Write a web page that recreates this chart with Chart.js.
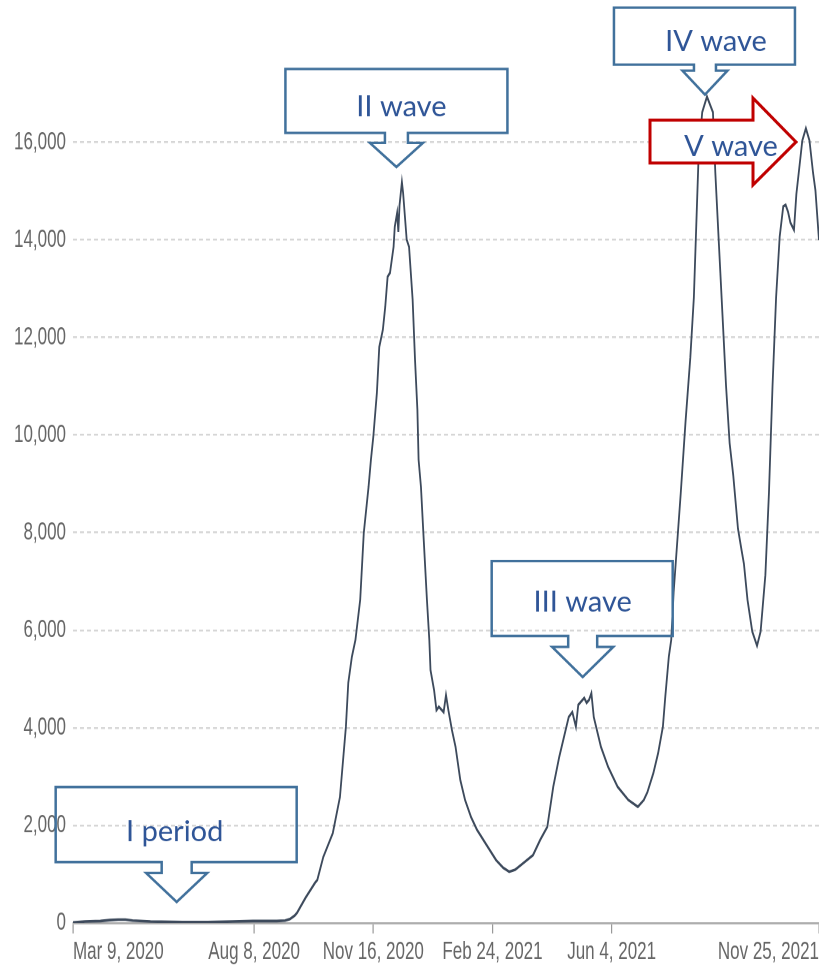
<!DOCTYPE html>
<html>
<head>
<meta charset="utf-8">
<script src="https://cdn.jsdelivr.net/npm/chart.js@4.4.0/dist/chart.umd.min.js"></script>
<style>
  html, body { margin: 0; padding: 0; background: #fff; overflow: hidden; }
</style>
</head>
<body>
<!-- the source screenshot is stretched vertically, so the chart is drawn short and shown taller -->
<canvas id="chart" width="819" height="645" style="width:819px;height:968px;display:block"></canvas>
<script>
const STRETCH = 968 / 645;

// days since Mar 9, 2020 and daily new cases
const caseDays = [
  0, 10, 23, 31, 38, 44, 50, 65, 92, 113, 134, 151, 171, 178, 182, 186, 188, 195, 203, 205,
  210, 218, 224, 229, 231, 234, 237, 239, 241, 244, 248, 250, 252, 255, 257, 260, 262, 264, 266, 269,
  270, 272, 273, 274, 276, 277, 280, 282, 285, 287, 289, 290, 292, 294, 297, 299, 300, 303, 305, 307,
  311, 313, 315, 318, 321, 325, 329, 334, 339, 348, 355, 361, 366, 371, 378, 386, 392, 398, 403, 408,
  412, 416, 419, 422, 424, 429, 431, 433, 435, 437, 443, 449, 457, 466, 474, 479, 482, 487, 491, 495,
  497, 500, 502, 504, 510, 514, 518, 521, 523, 525, 528, 532, 537, 539, 542, 545, 548, 551, 554, 558,
  561, 563, 566, 570, 574, 577, 581, 584, 587, 590, 593, 596, 598, 600, 602, 605, 607, 609, 612, 615,
  618, 621, 623, 626
];
const caseValues = [
  10, 30, 40, 60, 70, 70, 50, 30, 20, 20, 30, 40, 40, 50, 80, 150, 210, 510, 820, 880,
  1350, 1840, 2580, 4020, 4920, 5450, 5800, 6210, 6620, 7990, 8930, 9490, 9960, 10860, 11800, 12150, 12620, 13240, 13320, 13850,
  14260, 14550, 14160, 14700, 15180, 14960, 14000, 13850, 12770, 11540, 10510, 9490, 8930, 7990, 6620, 5800, 5180, 4770, 4360, 4430,
  4320, 4670, 4360, 3950, 3610, 2930, 2520, 2170, 1910, 1560, 1290, 1130, 1050, 1090, 1230, 1390, 1700, 1970, 2790, 3400,
  3810, 4220, 4320, 4020, 4470, 4610, 4510, 4570, 4710, 4220, 3610, 3200, 2790, 2520, 2380, 2520, 2680, 3070, 3480, 4020,
  4630, 5460, 5800, 6770, 8810, 10270, 11580, 12820, 14280, 15740, 16610, 16930, 16610, 15370, 13910, 12460, 11000, 9830, 9180, 8080,
  7640, 7360, 6620, 5970, 5680, 5970, 7130, 8810, 11000, 12820, 14060, 14680, 14710, 14570, 14350, 14200, 14930, 15370, 16030, 16280,
  16030, 15370, 15010, 13990
];

const xTickDays = [0, 152, 252, 352, 452, 626];
const xTickLabels = ['Mar 9, 2020', 'Aug 8, 2020', 'Nov 16, 2020', 'Feb 24, 2021', 'Jun 4, 2021', 'Nov 25, 2021'];
const yTickValues = [0, 2000, 4000, 6000, 8000, 10000, 12000, 14000, 16000];

// callouts are anchored at the arrow tip (day, value); box sizes are page pixels around the tip
const callouts = [
  { text: 'I period', day: 87, value: 430, left: -121, right: 120, top: -115, bottom: -40, stem: 15, head: 30.5, headTop: -29, tx: -2, ty: -70 },
  { text: 'II wave', day: 271.4, value: 15490, left: -111, right: 111, top: -98, bottom: -34, stem: 11.5, head: 26.5, headTop: -24, tx: 5, ty: -60 },
  { text: 'III wave', day: 427.7, value: 5040, left: -91, right: 90, top: -116, bottom: -41, stem: 14.5, head: 30.5, headTop: -30, tx: 0, ty: -75 },
  { text: 'IV wave', day: 530.3, value: 16970, left: -91, right: 90, top: -87, bottom: -30, stem: 11, head: 22.5, headTop: -24, tx: 11, ty: -53 }
];
const rightArrow = { text: 'V wave', day: 606.7, value: 16000, left: -146, neck: -43, top: -22, bottom: 21, headTop: -44, headBottom: 43, tx: -65, ty: 5 };

function drawCallout(ctx, x, y, c) {
  ctx.beginPath();
  ctx.moveTo(x + c.left, y + c.top);
  ctx.lineTo(x + c.right, y + c.top);
  ctx.lineTo(x + c.right, y + c.bottom);
  ctx.lineTo(x + c.stem, y + c.bottom);
  ctx.lineTo(x + c.stem, y + c.headTop);
  ctx.lineTo(x + c.head, y + c.headTop);
  ctx.lineTo(x, y);
  ctx.lineTo(x - c.head, y + c.headTop);
  ctx.lineTo(x - c.stem, y + c.headTop);
  ctx.lineTo(x - c.stem, y + c.bottom);
  ctx.lineTo(x + c.left, y + c.bottom);
  ctx.closePath();
  // the blue callouts are see-through: grid lines and labels show inside them
  ctx.lineWidth = 2.5;
  ctx.strokeStyle = '#41719c';
  ctx.stroke();
  ctx.fillStyle = '#2f5597';
  ctx.fillText(c.text, x + c.tx, y + c.ty);
}

function drawRightArrow(ctx, x, y, a) {
  ctx.beginPath();
  ctx.moveTo(x + a.left, y + a.top);
  ctx.lineTo(x + a.neck, y + a.top);
  ctx.lineTo(x + a.neck, y + a.headTop);
  ctx.lineTo(x, y);
  ctx.lineTo(x + a.neck, y + a.headBottom);
  ctx.lineTo(x + a.neck, y + a.bottom);
  ctx.lineTo(x + a.left, y + a.bottom);
  ctx.closePath();
  ctx.fillStyle = '#ffffff';
  ctx.fill();
  ctx.lineWidth = 3;
  ctx.strokeStyle = '#c00000';
  ctx.stroke();
  ctx.fillStyle = '#2f5597';
  ctx.fillText(a.text, x + a.tx, y + a.ty);
}

const calloutPlugin = {
  id: 'callouts',
  afterDraw(chart) {
    const ctx = chart.ctx;
    const xs = chart.scales.x;
    const ys = chart.scales.y;
    ctx.save();
    ctx.scale(1, 1 / STRETCH);
    ctx.font = '29px Lato, "Open Sans", sans-serif';
    ctx.textAlign = 'center';
    ctx.textBaseline = 'middle';
    ctx.lineJoin = 'miter';
    callouts.forEach(c => {
      drawCallout(ctx, xs.getPixelForValue(c.day), ys.getPixelForValue(c.value) * STRETCH, c);
    });
    drawRightArrow(ctx, xs.getPixelForValue(rightArrow.day), ys.getPixelForValue(rightArrow.value) * STRETCH, rightArrow);
    ctx.restore();
  }
};

const points = caseDays.map((d, i) => ({ x: d, y: caseValues[i] }));
const tickFont = { family: '"Liberation Sans", Arial, sans-serif', size: 17 };

new Chart(document.getElementById('chart'), {
  type: 'line',
  data: {
    datasets: [{
      data: points,
      borderColor: '#3d4a5c',
      borderWidth: 1.8,
      pointRadius: 0,
      tension: 0,
      fill: false
    }]
  },
  options: {
    responsive: false,
    devicePixelRatio: 2,
    animation: false,
    layout: { padding: 0 },
    plugins: { legend: { display: false }, tooltip: { enabled: false } },
    scales: {
      x: {
        type: 'linear',
        min: 0,
        max: 626,
        afterBuildTicks: (scale) => { scale.ticks = xTickDays.map(v => ({ value: v })); },
        afterFit: (scale) => { scale.height = 30; scale.paddingLeft = 0; scale.paddingRight = 0; },
        ticks: {
          autoSkip: false,
          maxRotation: 0,
          align: 'inner',
          padding: 2,
          color: '#666',
          font: tickFont,
          callback: (value) => xTickLabels[xTickDays.indexOf(value)]
        },
        grid: { drawOnChartArea: false, drawTicks: true, tickLength: 7, color: '#999', lineWidth: 1.2 },
        border: { display: true, color: '#aaa', width: 1.4 }
      },
      y: {
        min: 0,
        max: 18909,
        afterBuildTicks: (scale) => { scale.ticks = yTickValues.map(v => ({ value: v })); },
        afterFit: (scale) => { scale.width = 73; scale.paddingTop = 0; scale.paddingBottom = 0; },
        ticks: {
          padding: 7,
          color: '#666',
          font: tickFont,
          callback: (value) => value.toLocaleString('en-US')
        },
        grid: {
          drawTicks: false,
          lineWidth: 1.2,
          color: (c) => (c.tick && c.tick.value === 0) ? 'rgba(0,0,0,0)' : '#d6d6d6'
        },
        border: { display: false, dash: [4, 3] }
      }
    }
  },
  plugins: [calloutPlugin]
});
</script>
</body>
</html>
